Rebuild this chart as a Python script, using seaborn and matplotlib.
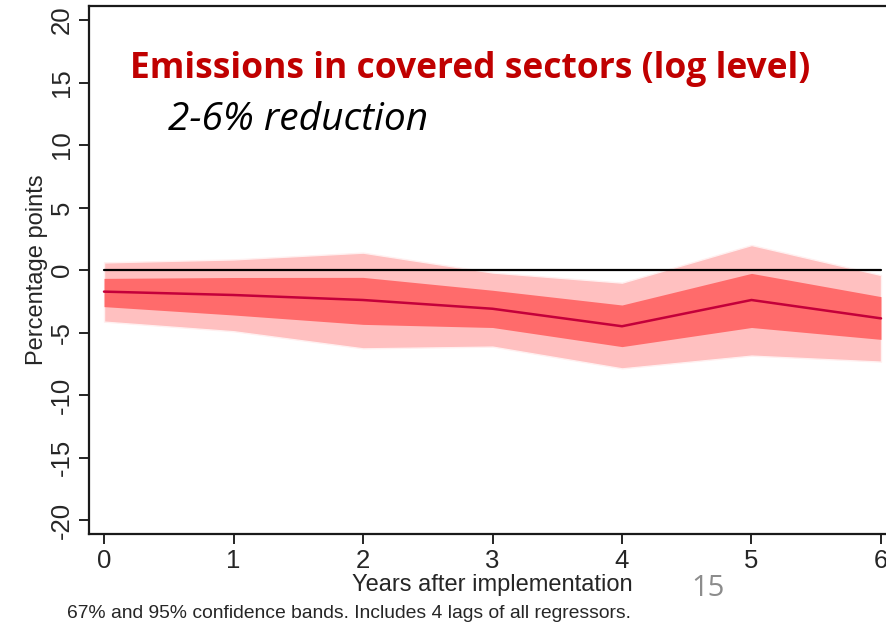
import numpy as np
import pandas as pd
import matplotlib
matplotlib.use("Agg")
import matplotlib.pyplot as plt
import seaborn as sns

# Impulse response of log emissions in covered sectors
years = [0, 1, 2, 3, 4, 5, 6]
estimate = [-1.73, -2.0, -2.4, -3.1, -4.5, -2.4, -3.87]
ci67_upper = [-0.67, -0.6, -0.59, -1.62, -2.8, -0.27, -2.13]
ci67_lower = [-2.93, -3.6, -4.35, -4.6, -6.13, -4.6, -5.55]
ci95_upper = [0.61, 0.85, 1.39, -0.2, -1.01, 2.0, -0.4]
ci95_lower = [-4.13, -4.9, -6.27, -6.13, -7.87, -6.85, -7.33]
y_ticks = [-20, -15, -10, -5, 0, 5, 10, 15, 20]
x_ticks = [0, 1, 2, 3, 4, 5, 6]

df = pd.DataFrame({"year": years, "estimate": estimate})

sns.set_style("white")
plt.rcParams["font.family"] = ["Liberation Sans", "DejaVu Sans"]

W, H = 886, 624
fig = plt.figure(figsize=(W / 100, H / 100), dpi=100)
ax = fig.add_axes([89 / W, 1 - 534 / H, 807 / W, 528 / H])

light = "#ffc0c0"
dark = "#ff6b6b"
ax.fill_between(years, ci95_lower, ci95_upper, color=light, lw=1.0,
                edgecolor="#fff0f0", zorder=1)
ax.fill_between(years, ci67_lower, ci67_upper, color=dark, lw=0, zorder=2)
ax.axhline(0, color="black", lw=1.6, zorder=3, xmin=(0 + 0.116) / 6.232,
           xmax=(6.0 + 0.116) / 6.232)
sns.lineplot(data=df, x="year", y="estimate", ax=ax, color="#c4003a",
             lw=1.8, zorder=4)

ax.set_xlim(-0.116, 6.116)
ax.set_ylim(-21.12, 21.12)
ax.set_xticks(x_ticks)
ax.set_yticks(y_ticks)
ax.set_xticklabels([str(t) for t in x_ticks], fontsize=18.5)
ax.set_yticklabels([str(t) for t in y_ticks], fontsize=18.5, rotation=90,
                   va="center")
ax.tick_params(axis="both", direction="out", length=7, width=1.2,
               color="black", pad=4, bottom=True, left=True)
for s in ax.spines.values():
    s.set_color("#1a1a1a")
    s.set_linewidth(1.6)

ax.set_xlabel("")
ax.set_ylabel("")
fig.text(37 / W, 1 - 270 / H, "Percentage points", rotation=90,
         ha="center", va="center", fontsize=17)
fig.text(492 / W, 1 - 585 / H, "Years after implementation",
         ha="center", va="center", fontsize=17)
fig.text(708 / W, 1 - 588 / H, "15", ha="center", va="center",
         fontsize=21, color="#8c8c8c", family=["Open Sans", "DejaVu Sans"])
fig.text(67 / W, 1 - 614 / H,
         "67% and 95% confidence bands. Includes 4 lags of all regressors.",
         ha="left", va="center", fontsize=13.9)

fig.text(130 / W, 1 - 69 / H, "Emissions in covered sectors (log level)",
         ha="left", va="center", fontsize=25.5, fontweight="bold",
         color="#c00000", family=["Open Sans", "DejaVu Sans"])
fig.text(168 / W, 1 - 120 / H, "2-6% reduction", ha="left", va="center",
         fontsize=28, style="italic", color="black",
         family=["Open Sans", "DejaVu Sans"])

fig.savefig("out.png", dpi=100)
